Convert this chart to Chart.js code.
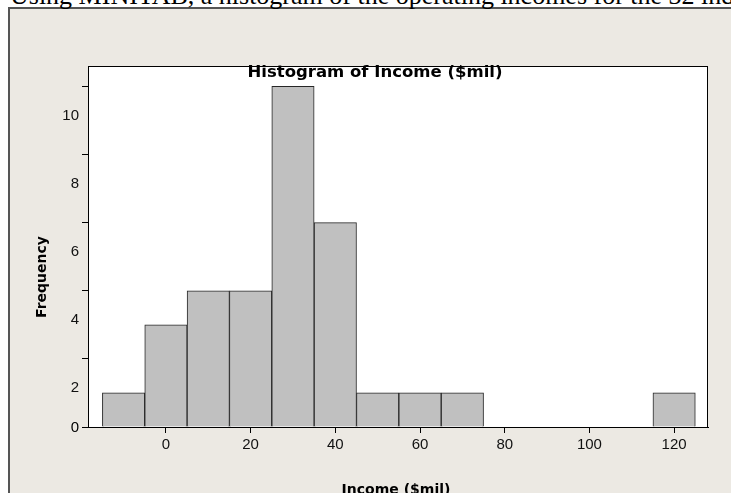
<!DOCTYPE html>
<html>
<head>
<meta charset="utf-8">
<title>Histogram of Income ($mil)</title>
<script src="https://cdn.jsdelivr.net/npm/chart.js@4.4.1/dist/chart.umd.min.js"></script>
<style>
    html, body { margin: 0; padding: 0; background: #fff; overflow: hidden; }
    #page { position: relative; width: 731px; height: 493px; overflow: hidden; }
    #caption {
        position: absolute; left: 10px; top: -17px;
        font: 26px/26px "Liberation Serif", "Times New Roman", serif;
        color: #000; white-space: nowrap;
    }
    #panel {
        position: absolute; left: 8px; top: 7px; width: 800px; height: 560px;
        background: #ECE9E3; border-left: 2px solid #555; border-top: 2px solid #555;
    }
    #wrap { position: absolute; left: 0; top: 0; width: 731px; height: 493px; }
</style>
</head>
<body>
<div id="page">
    <div id="panel"></div>
    <div id="caption">Using MINITAB, a histogram of the operating incomes for the 32 industries</div>
    <div id="wrap"><canvas id="histChart"></canvas></div>
</div>
<script>
const binCenters = [-10, 0, 10, 20, 30, 40, 50, 60, 70, 80, 90, 100, 110, 120];
const frequencies = [1, 3, 4, 4, 10, 6, 1, 1, 1, 0, 0, 0, 0, 1];
const xTicks = [0, 20, 40, 60, 80, 100, 120];
const yTicks = [0, 2, 4, 6, 8, 10];
const chartTitle = 'Histogram of Income ($mil)';
const xTitle = 'Income ($mil)';
const yTitle = 'Frequency';

const tickFont = { family: '"Liberation Sans", Arial, sans-serif', size: 15 };

// Marco blanco del área de datos y textos al estilo MINITAB
const minitabFrame = {
    id: 'minitabFrame',
    beforeDraw(chart) {
        const { ctx, chartArea: a } = chart;
        ctx.save();
        ctx.fillStyle = '#fff';
        ctx.fillRect(a.left, a.top, a.right - a.left, a.bottom - a.top);
        ctx.restore();
    },
    afterDraw(chart) {
        const { ctx, chartArea: a, scales } = chart;
        ctx.save();
        ctx.strokeStyle = '#000';
        ctx.lineWidth = 1;
        ctx.strokeRect(a.left + 0.5, a.top + 0.5, a.right - a.left - 1, a.bottom - a.top);

        ctx.fillStyle = '#000';
        // título del gráfico
        ctx.font = 'bold 16.5px "DejaVu Sans", sans-serif';
        ctx.textAlign = 'center';
        ctx.textBaseline = 'alphabetic';
        ctx.fillText(chartTitle, a.left + 287, a.top + 11);

        // título eje X
        ctx.font = 'bold 14px "DejaVu Sans", sans-serif';
        ctx.fillText(xTitle, (a.left + a.right) / 2 - 2, 494);

        // título eje Y
        ctx.save();
        ctx.translate(42, 277);
        ctx.rotate(-Math.PI / 2);
        ctx.textBaseline = 'middle';
        ctx.fillText(yTitle, 0, 0);
        ctx.restore();

        // etiqueta 0 del eje Y (sin desplazamiento)
        ctx.font = '15px "Liberation Sans", Arial, sans-serif';
        ctx.textAlign = 'right';
        ctx.textBaseline = 'middle';
        ctx.fillText('0', scales.y.right - 9, scales.y.getPixelForValue(0) + 1);
        ctx.restore();
    }
};

document.addEventListener('DOMContentLoaded', function() {
    const ctx = document.getElementById('histChart').getContext('2d');
    new Chart(ctx, {
        type: 'bar',
        data: {
            datasets: [{
                label: 'Frequency',
                data: binCenters.map((x, i) => ({ x: x, y: frequencies[i] })),
                backgroundColor: '#C0C0C0',
                borderColor: '#262626',
                borderWidth: 1,
                barPercentage: 1,
                categoryPercentage: 1
            }]
        },
        options: {
            responsive: true,
            maintainAspectRatio: false,
            animation: false,
            layout: { padding: { left: 0, right: 23, top: 66, bottom: 0 } },
            plugins: {
                legend: { display: false },
                tooltip: { enabled: false }
            },
            scales: {
                x: {
                    type: 'linear',
                    min: -18.4,
                    max: 128,
                    offset: false,
                    afterBuildTicks: scale => { scale.ticks = xTicks.map(v => ({ value: v })); },
                    afterFit: scale => { scale.height = 66; },
                    grid: { drawOnChartArea: false, offset: false, color: '#000', tickLength: 6 },
                    border: { color: '#000', width: 1 },
                    ticks: { color: '#111', font: tickFont, padding: 3, maxRotation: 0, autoSkip: false }
                },
                y: {
                    min: 0,
                    max: 10.6,
                    afterBuildTicks: scale => { scale.ticks = yTicks.map(v => ({ value: v })); },
                    afterFit: scale => { scale.width = 88; },
                    grid: { drawOnChartArea: false, color: '#000', tickLength: 6 },
                    border: { color: '#000', width: 1 },
                    ticks: {
                        color: '#111', font: tickFont, padding: 3, labelOffset: 29,
                        callback: v => (v === 0 ? '' : v)
                    }
                }
            }
        },
        plugins: [minitabFrame]
    });
});
</script>
</body>
</html>
